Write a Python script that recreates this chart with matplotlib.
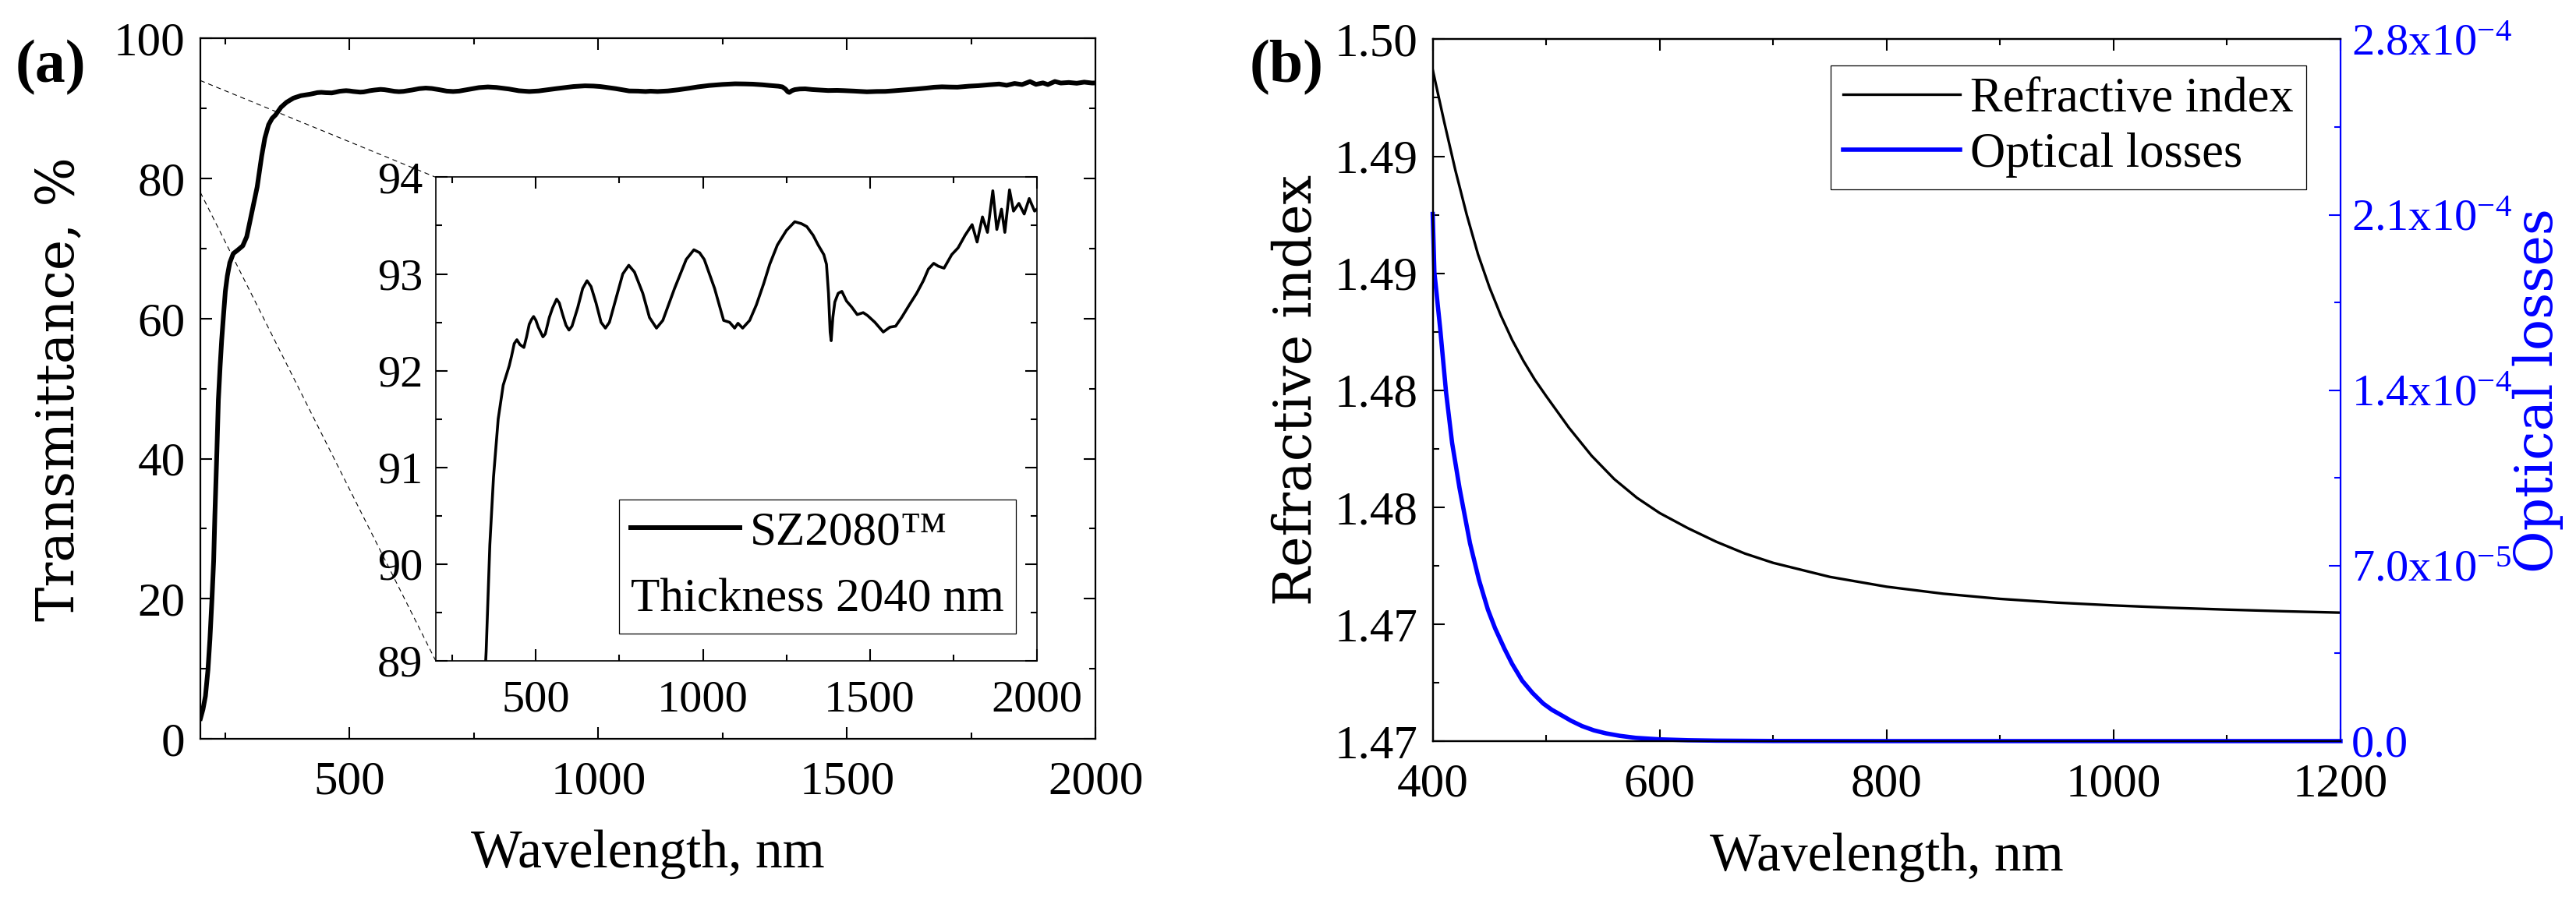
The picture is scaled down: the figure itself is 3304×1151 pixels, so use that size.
import matplotlib
matplotlib.use("Agg")
import matplotlib.pyplot as plt
from matplotlib.patches import ConnectionPatch
from matplotlib.ticker import MultipleLocator, FixedLocator, FixedFormatter

# ---- data ----
# (a) transmittance spectrum of the SZ2080 film
wavelength_a = [200, 205, 210, 215, 219, 223, 226.5, 229, 233, 236, 239.5, 242.6, 246, 250,
                254, 259, 266, 275, 285, 293, 301, 314, 323, 329.5, 337, 344, 351, 362, 373,
                387, 402, 411, 420, 427, 435, 443, 452, 464, 472, 480, 487, 493, 500, 507,
                514, 521, 528, 540, 550, 562, 570, 580, 590, 599, 608, 625, 640, 653, 665,
                680, 695, 708, 720, 740, 760, 778, 795, 820, 840, 861, 880, 915, 950, 973,
                990, 1004, 1035, 1062, 1080, 1095, 1105, 1119, 1140, 1160, 1182, 1200, 1223,
                1250, 1275, 1295, 1311, 1330, 1345, 1362, 1370, 1376, 1381, 1384, 1389, 1395,
                1405, 1416, 1430, 1445, 1462, 1480, 1493, 1515, 1540, 1560, 1577, 1595, 1618,
                1640, 1660, 1675, 1691, 1705, 1722, 1745, 1764, 1785, 1806, 1821, 1837, 1852,
                1868, 1880, 1894, 1904, 1918, 1930, 1946, 1962, 1977, 1993, 2000]
transmittance = [2.9, 4.2, 6.1, 9.8, 14.2, 19.8, 25.4, 32.0, 41.0, 48.4, 53.2, 56.9, 60.2, 63.9,
                 66.1, 68.0, 69.3, 69.8, 70.4, 71.7, 74.4, 78.8, 83.2, 85.8, 87.7, 88.6, 89.1,
                 90.2, 90.9, 91.5, 91.85, 91.95, 92.05, 92.15, 92.28, 92.32, 92.27, 92.24,
                 92.35, 92.48, 92.53, 92.56, 92.52, 92.45, 92.4, 92.35, 92.38, 92.55, 92.65,
                 92.74, 92.7, 92.58, 92.47, 92.42, 92.46, 92.65, 92.85, 92.93, 92.87, 92.7,
                 92.5, 92.44, 92.5, 92.75, 93.0, 93.09, 93.02, 92.8, 92.55, 92.44, 92.52,
                 92.85, 93.15, 93.25, 93.22, 93.15, 92.85, 92.52, 92.5, 92.44, 92.49, 92.44,
                 92.52, 92.68, 92.9, 93.1, 93.3, 93.45, 93.54, 93.52, 93.49, 93.4, 93.3, 93.2,
                 93.1, 92.8, 92.4, 92.31, 92.55, 92.71, 92.8, 92.82, 92.72, 92.66, 92.58,
                 92.6, 92.57, 92.5, 92.4, 92.45, 92.46, 92.55, 92.68, 92.8, 92.93, 93.05,
                 93.11, 93.08, 93.06, 93.2, 93.27, 93.4, 93.51, 93.33, 93.59, 93.43, 93.86,
                 93.46, 93.67, 93.43, 93.87, 93.65, 93.73, 93.62, 93.78, 93.65, 93.67]

# (b) refractive index and optical losses
wavelength_n = [400, 410, 420, 430, 440, 450, 460, 470, 480, 490, 500, 520, 540, 560, 580,
                600, 625, 650, 675, 700, 750, 800, 850, 900, 950, 1000, 1050, 1100, 1150, 1200]
refr_index = [1.49870, 1.49650, 1.49440, 1.49250, 1.49080, 1.48940, 1.48820, 1.48715,
              1.48625, 1.48545, 1.48475, 1.48340, 1.48220, 1.48120, 1.48040, 1.47975,
              1.47910, 1.47852, 1.47802, 1.47762, 1.47702, 1.47660, 1.47630, 1.47608,
              1.47592, 1.47580, 1.47570, 1.47562, 1.47555, 1.47549]
wavelength_k = [400, 401.5, 406.6, 411.8, 417.1, 423.7, 432.9, 440.8, 448.7, 455, 463.2, 470,
                478.9, 488, 497.4, 505, 513.2, 522, 531.6, 542, 552.6, 565, 578.9, 600, 625,
                650, 700, 800, 900, 1000, 1100, 1200]
optical_losses = [2.103e-4, 1.87e-4, 1.646e-4, 1.391e-4, 1.19e-4, 1.008e-4, 7.89e-5, 6.43e-5,
                  5.24e-5, 4.5e-5, 3.69e-5, 3.08e-5, 2.41e-5, 1.92e-5, 1.50e-5, 1.25e-5,
                  1.04e-5, 8.1e-6, 6.0e-6, 4.3e-6, 3.1e-6, 2.1e-6, 1.3e-6, 7e-7, 3.5e-7,
                  1.8e-7, 5e-8, 0, 0, 0, 0, 0]

n_ticks = [1.470, 1.475, 1.480, 1.485, 1.490, 1.495, 1.500]
n_tick_labels = ['1.47', '1.47', '1.48', '1.48', '1.49', '1.49', '1.50']
loss_ticks = [0, 7e-5, 1.4e-4, 2.1e-4, 2.8e-4]
loss_tick_labels = [r'0.0', r'$7.0\mathrm{x}10^{-5}$', r'$1.4\mathrm{x}10^{-4}$',
                    r'$2.1\mathrm{x}10^{-4}$', r'$2.8\mathrm{x}10^{-4}$']

# ---- style ----
plt.rcParams['font.family'] = ['Liberation Serif', 'DejaVu Serif']
plt.rcParams['mathtext.fontset'] = 'custom'
plt.rcParams['mathtext.rm'] = 'Liberation Serif'
plt.rcParams['mathtext.it'] = 'Liberation Serif:italic'
plt.rcParams['mathtext.bf'] = 'Liberation Serif:bold'
plt.rcParams['axes.linewidth'] = 1.6

TICK = 44
LABEL = 50
YLABEL = dict(fontsize=48, family='DejaVu Serif')
BLUE = '#0000ff'


def style_ticks(ax, **kw):
    ax.tick_params(which='both', direction='in', width=1.5, labelsize=TICK, pad=14, **kw)
    ax.tick_params(axis='x', pad=20)
    ax.tick_params(which='major', length=11)
    ax.tick_params(which='minor', length=6)


fig = plt.figure(figsize=(33.05, 11.51), dpi=100)

# ---- panel (a) ----
ax_a = fig.add_axes([0.0778, 0.1764, 0.3474, 0.7806])
line_a, = ax_a.plot(wavelength_a, transmittance, color='black', lw=4.3)
ax_a.set_xlim(200, 2000)
ax_a.set_ylim(0, 100)
ax_a.xaxis.set_major_locator(FixedLocator([500, 1000, 1500, 2000]))
ax_a.xaxis.set_minor_locator(FixedLocator([250, 750, 1250, 1750]))
ax_a.yaxis.set_major_locator(MultipleLocator(20))
ax_a.yaxis.set_minor_locator(MultipleLocator(10))
style_ticks(ax_a, top=True, right=True)
ax_a.set_xlabel('Wavelength, nm', fontsize=LABEL)
ax_a.set_ylabel('Transmittance, %', **YLABEL)
ax_a.xaxis.set_label_coords(0.5, -0.13)
ax_a.yaxis.set_label_coords(-0.13, 0.5)

# inset
ax_in = fig.add_axes([0.1691, 0.2633, 0.2333, 0.5391])
ax_in.plot(wavelength_a, transmittance, color='black', lw=2.6)
ax_in.set_xlim(200, 2000)
ax_in.set_ylim(89, 94)
ax_in.xaxis.set_major_locator(FixedLocator([500, 1000, 1500, 2000]))
ax_in.xaxis.set_minor_locator(FixedLocator([250, 750, 1250, 1750]))
ax_in.yaxis.set_major_locator(MultipleLocator(1))
ax_in.yaxis.set_minor_locator(MultipleLocator(0.5))
style_ticks(ax_in, top=True, right=True)
ax_in.tick_params(labelsize=42, pad=12)
ax_in.tick_params(axis='x', pad=18)
for s in ax_in.spines.values():
    s.set_linewidth(1.2)

leg_in = ax_in.legend([line_a], ['SZ2080\u2122'], title='Thickness 2040 nm',
                      loc='lower right', bbox_to_anchor=(0.965, 0.056), borderaxespad=0,
                      fontsize=44, title_fontsize=44, alignment='left', fancybox=False,
                      edgecolor='black', framealpha=1, handlelength=2.3, handletextpad=0.2,
                      borderpad=0.25)
leg_in.get_frame().set_linewidth(0.9)
leg_in._legend_box._children.reverse()

# zoom guide lines
for ya, yb in [(94, 1), (78, 0)]:
    con = ConnectionPatch(xyA=(200, ya), coordsA=ax_a.transData,
                          xyB=(0, yb), coordsB=ax_in.transAxes,
                          color='black', lw=0.8, ls=(0, (5, 5)))
    fig.add_artist(con)

# ---- panel (b) ----
ax_b = fig.add_axes([0.5560, 0.1738, 0.3523, 0.7824])
l_n, = ax_b.plot(wavelength_n, refr_index, color='black', lw=2.4)
ax_b.set_xlim(400, 1200)
ax_b.set_ylim(1.47, 1.50)
ax_b.xaxis.set_major_locator(MultipleLocator(200))
ax_b.xaxis.set_minor_locator(MultipleLocator(100))
ax_b.yaxis.set_major_locator(FixedLocator(n_ticks))
ax_b.yaxis.set_major_formatter(FixedFormatter(n_tick_labels))
ax_b.yaxis.set_minor_locator(MultipleLocator(0.0025))
style_ticks(ax_b, top=True, right=False)
ax_b.spines['right'].set_visible(False)
ax_b.set_xlabel('Wavelength, nm', fontsize=LABEL)
ax_b.set_ylabel('Refractive index', **YLABEL)
ax_b.xaxis.set_label_coords(0.5, -0.13)
ax_b.yaxis.set_label_coords(-0.1215, 0.5)

ax2 = ax_b.twinx()
l_k, = ax2.plot(wavelength_k, optical_losses, color=BLUE, lw=4.0, clip_on=False)
ax2.set_ylim(0, 2.8e-4)
ax2.yaxis.set_major_locator(FixedLocator(loss_ticks))
ax2.yaxis.set_major_formatter(FixedFormatter(loss_tick_labels))
ax2.yaxis.set_minor_locator(MultipleLocator(3.5e-5))
style_ticks(ax2, colors=BLUE)
ax2.tick_params(axis='y', pad=10, labelsize=42)
ax2.spines['right'].set_color(BLUE)
ax2.spines['right'].set_linewidth(1.6)
ax2.set_ylabel('Optical losses', color=BLUE, **YLABEL)
ax2.yaxis.set_label_coords(1.19, 0.5)

leg_b = ax2.legend([l_n, l_k], ['Refractive index', 'Optical losses'], loc='upper right',
                   bbox_to_anchor=(0.962, 0.963), borderaxespad=0, fontsize=45,
                   fancybox=False, edgecolor='black', framealpha=1, handlelength=2.4,
                   handletextpad=0.22, labelspacing=0.2, borderpad=0.25)
leg_b.get_frame().set_linewidth(0.9)

# panel letters
fig.text(0.0197, 0.925, '(a)', fontsize=56, fontweight='bold', ha='center', va='center')
fig.text(0.4992, 0.925, '(b)', fontsize=56, fontweight='bold', ha='center', va='center')

fig.savefig('out.png', dpi=100)
